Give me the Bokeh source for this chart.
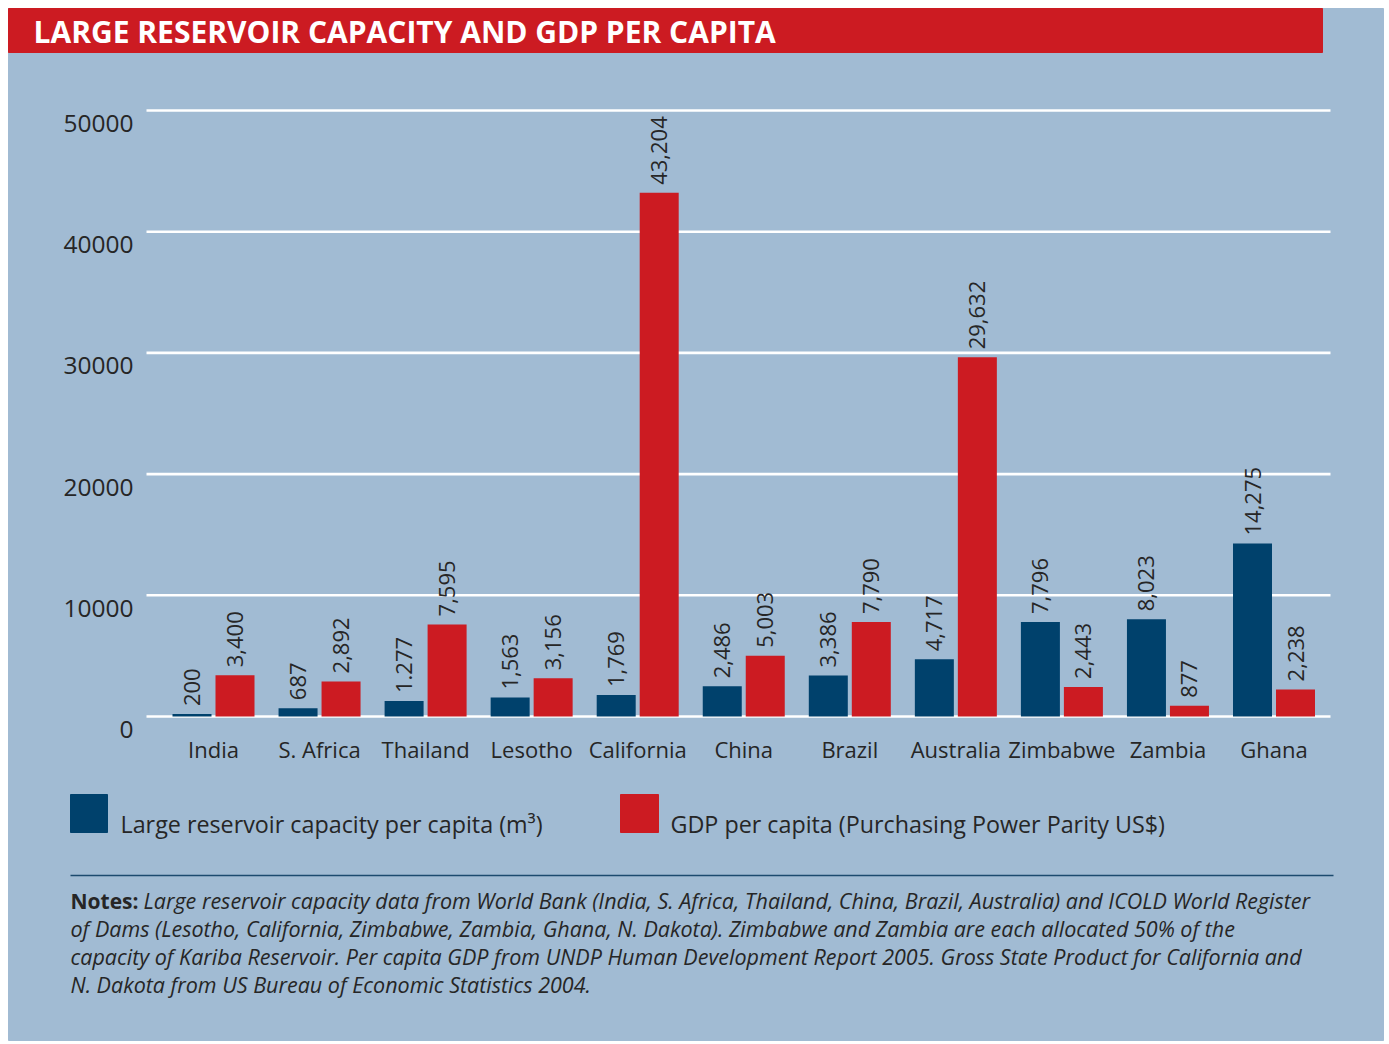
import math
from bokeh.plotting import figure
from bokeh.models import Range1d, ColumnDataSource
from bokeh.core.properties import value
from bokeh.embed import file_html
from bokeh.resources import INLINE
from bokeh.transform import dodge

# ---------------- data ----------------
categories = ["India", "S. Africa", "Thailand", "Lesotho", "California", "China",
              "Brazil", "Australia", "Zimbabwe", "Zambia", "Ghana"]
reservoir = [200, 687, 1277, 1563, 1769, 2486, 3386, 4717, 7796, 8023, 14275]
gdp = [3400, 2892, 7595, 3156, 43204, 5003, 7790, 29632, 2443, 877, 2238]
reservoir_labels = ["200", "687", "1.277", "1,563", "1,769", "2,486", "3,386",
                    "4,717", "7,796", "8,023", "14,275"]
gdp_labels = ["3,400", "2,892", "7,595", "3,156", "43,204", "5,003", "7,790",
              "29,632", "2,443", "877", "2,238"]
y_ticks = [0, 10000, 20000, 30000, 40000, 50000]
y_tick_labels = ["0", "10000", "20000", "30000", "40000", "50000"]

title_text = "LARGE RESERVOIR CAPACITY AND GDP PER CAPITA"
legend_reservoir = "Large reservoir capacity per capita (m\u00b3)"
legend_gdp = "GDP per capita (Purchasing Power Parity US$)"
notes_head = "Notes:"
notes_lines = [
    "Large reservoir capacity data from World Bank (India, S. Africa, Thailand, China, Brazil, Australia) and ICOLD World Register",
    "of Dams (Lesotho, California, Zimbabwe, Zambia, Ghana, N. Dakota). Zimbabwe and Zambia are each allocated 50% of the",
    "capacity of Kariba Reservoir. Per capita GDP from UNDP Human Development Report 2005. Gross State Product for California and",
    "N. Dakota from US Bureau of Economic Statistics 2004.",
]

# ---------------- layout / style ----------------
BG = "#a1bbd3"
RED = "#cc1b22"
BLUE = "#00416c"
TXT = "#262626"
FONT = "Open Sans"

W, H = 1389, 1044              # figure covers the whole window (page coords)
GROUP0 = 213.0                 # page x of first group centre
STEP = 106.05                  # page px between groups
Y0 = 716.0                     # page y of value 0
YS = 606.0 / 50000.0           # page px per unit

x_main = Range1d((0 - GROUP0) / STEP, (W - GROUP0) / STEP)
y_main = Range1d(-(H - Y0) / YS, (Y0 - 0) / YS)

p = figure(width=W, height=H, x_range=x_main, y_range=y_main,
           output_backend="svg", toolbar_location=None,
           x_axis_location=None, y_axis_location=None, min_border=0)
p.extra_x_ranges = {"px": Range1d(0, W)}
p.extra_y_ranges = {"px": Range1d(H, 0)}
p.background_fill_color = "white"
p.border_fill_color = "white"
p.outline_line_color = None
p.grid.visible = False

idx = list(range(len(categories)))
src = ColumnDataSource(dict(x=idx, cat=categories, res=reservoir, gdp=gdp,
                            res_lab=reservoir_labels, gdp_lab=gdp_labels))

# panel background + title banner
p.quad(left=[8], right=[1383], top=[8], bottom=[1040], color=BG,
       x_range_name="px", y_range_name="px")
p.quad(left=[8], right=[1322], top=[8], bottom=[52], color=RED,
       x_range_name="px", y_range_name="px")
p.text(x=[33], y=[31], text=[title_text], text_color="white",
       text_font=value(FONT), text_font_style="bold", text_font_size="30px",
       text_baseline="middle", text_align="left",
       x_range_name="px", y_range_name="px")

# gridlines
p.segment(x0=[146] * len(y_ticks), x1=[1330] * len(y_ticks), y0=y_ticks, y1=y_ticks,
          line_color="white", line_width=2.6, x_range_name="px")
# y tick labels (sit slightly below their lines)
p.text(x=[133] * len(y_ticks), y=y_ticks, text=y_tick_labels, text_color=TXT,
       text_font=value(FONT), text_font_size="24.5px", text_align="right",
       text_baseline="middle", y_offset=13, x_range_name="px")

# bars
BW = 39.0 / STEP
OFF = 21.5 / STEP
p.vbar(x=dodge("x", -OFF, range=p.x_range), top="res", width=BW, bottom=0,
       source=src, fill_color=BLUE, line_color=None)
p.vbar(x=dodge("x", OFF, range=p.x_range), top="gdp", width=BW, bottom=0,
       source=src, fill_color=RED, line_color=None)

# value labels
for col, lab, off in (("res", "res_lab", -OFF), ("gdp", "gdp_lab", OFF)):
    p.text(x=dodge("x", off, range=p.x_range), y=col, text=lab, source=src,
           angle=math.pi / 2, text_align="left", text_baseline="middle",
           y_offset=-8, text_color=TXT, text_font=value(FONT), text_font_size="22px")

# category labels
p.text(x="x", y=value(748), text="cat", source=src, text_align="center",
       text_baseline="middle", text_color=TXT, text_font=value(FONT),
       text_font_size="22px", y_range_name="px")

# legend
p.quad(left=[70, 620], right=[107, 658], top=[794, 794], bottom=[832, 832],
       color=[BLUE, RED], x_range_name="px", y_range_name="px")
p.text(x=[120, 670], y=[823, 823], text=[legend_reservoir, legend_gdp],
       text_color=TXT, text_font=value(FONT), text_font_size="23.3px",
       text_align="left", text_baseline="middle",
       x_range_name="px", y_range_name="px")

# separator
p.segment(x0=[70], x1=[1333], y0=[875], y1=[875], line_color="#1c4a6e",
          line_width=1.5, x_range_name="px", y_range_name="px")

# notes
p.text(x=[70], y=[900], text=[notes_head], text_color=TXT, text_font=value(FONT),
       text_font_style="bold", text_font_size="21px", text_align="left",
       text_baseline="middle", x_range_name="px", y_range_name="px")
p.text(x=[143, 70, 70, 70], y=[900, 928, 956, 984], text=notes_lines,
       text_color=TXT, text_font=value(FONT), text_font_style="italic",
       text_font_size="21.5px", text_align="left", text_baseline="middle",
       x_range_name="px", y_range_name="px")

open("out.html", "w").write(file_html(p, INLINE))
